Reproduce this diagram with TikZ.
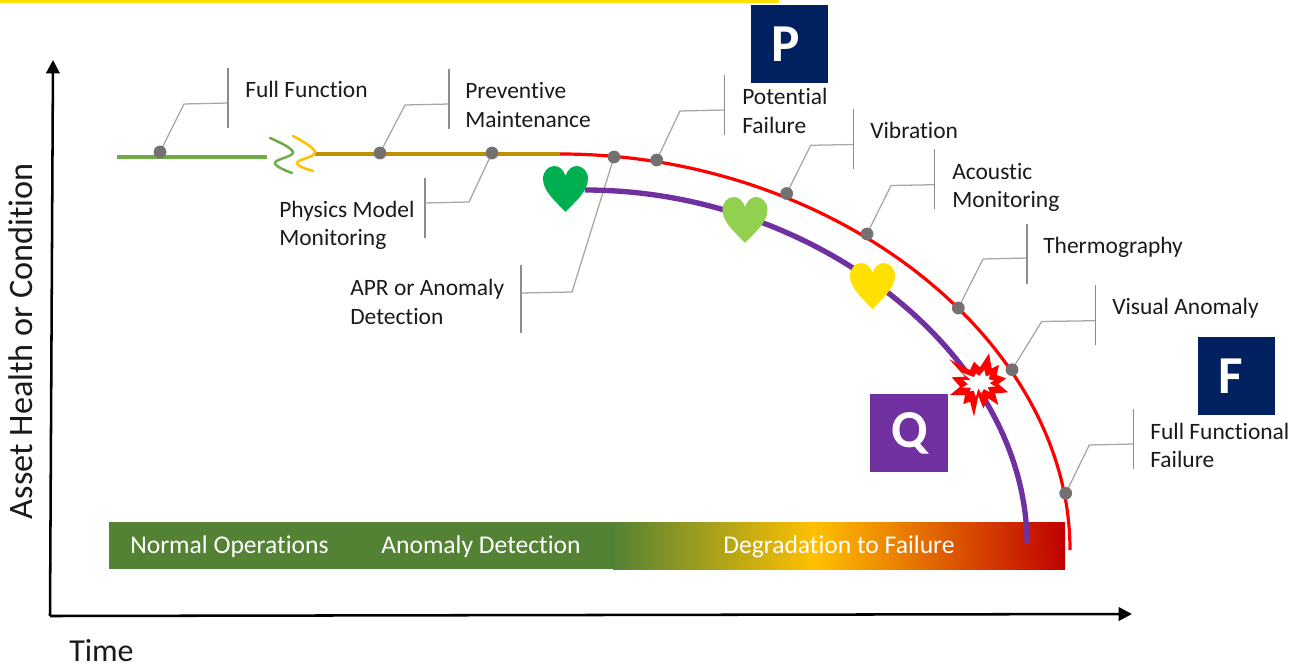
\documentclass[tikz,border=0pt]{standalone}
\usepackage{fontspec}
\setmainfont[Ligatures=NoCommon]{Carlito}
\usetikzlibrary{arrows.meta}
\definecolor{navyq}{HTML}{002060}
\definecolor{purpq}{HTML}{7030A0}
\definecolor{redq}{HTML}{FF0000}
\definecolor{dotgrey}{HTML}{767171}
\definecolor{leadgrey}{HTML}{A6A6A6}
\definecolor{bargrey}{HTML}{8C8C8C}
\definecolor{linegreen}{HTML}{70AD47}
\definecolor{ochre}{HTML}{BF9000}
\definecolor{wigyellow}{HTML}{FFC000}
\definecolor{topyellow}{HTML}{FFE000}
\definecolor{bargreen}{HTML}{548235}
\definecolor{bargold}{HTML}{FFC000}
\definecolor{bardark}{HTML}{C00000}
\definecolor{txt}{HTML}{1A1A1A}
\definecolor{heartdark}{HTML}{00B050}
\definecolor{heartlight}{HTML}{92D050}
\tikzset{
  dotnode/.style={circle,fill=dotgrey,draw=none,minimum size=9.6pt,inner sep=0pt},
  leader/.style={draw=leadgrey,line width=0.95pt},
  barline/.style={draw=bargrey,line width=0.85pt},
  lab/.style={anchor=west,inner sep=0pt,align=left,text=txt,font=\fontsize{17.6}{21.4}\selectfont},
  barlab/.style={anchor=west,inner sep=0pt,text=white,font=\fontsize{19.2}{23}\selectfont},
  letterbox/.style={anchor=center,inner sep=0pt,minimum width=58pt,minimum height=58.5pt,text=white,font=\fontsize{40}{44}\selectfont\bfseries},
  axisline/.style={draw=black,line width=1.9pt,-{Triangle[length=10pt,width=10pt]}},
}
\newcommand{\heartat}[3]{%
  \fill[#3,shift={(#1,#2)}] (0,23) .. controls (-8,14) and (-22.5,3) .. (-22.5,-10)
    .. controls (-22.5,-18) and (-17,-23) .. (-11,-23)
    .. controls (-6,-23) and (-2,-19) .. (0,-13)
    .. controls (2,-19) and (6,-23) .. (11,-23)
    .. controls (17,-23) and (22.5,-18) .. (22.5,-10)
    .. controls (22.5,3) and (8,14) .. (0,23) -- cycle;}
% name, dot, elbow, bar x, bar top y, bar mid y, bar bottom y
\newcommand{\callout}[7]{%
  \coordinate (#1d) at (#2);
  \coordinate (#1e) at (#3);
  \coordinate (#1t) at (#4,#5);
  \coordinate (#1m) at (#4,#6);
  \coordinate (#1b) at (#4,#7);
  \draw[leader] (#1d) -- (#1e) -- (#1m);
  \draw[barline] (#1t) -- (#1b);}
\newcommand{\burstpath}{(298,238) -- (360,270) -- (372,245) -- (390,262) -- (417,220) -- (425,265) -- (447,255) -- (440,285) -- (468,295) -- (445,312) -- (475,337) -- (435,340) -- (445,375) -- (415,355) -- (400,385) -- (385,348) -- (372,410) -- (360,365) -- (340,372) -- (345,345) -- (300,345) -- (330,320) -- (305,292) -- (345,290) -- cycle}
\begin{document}
\begin{tikzpicture}[x=0.75pt,y=-0.75pt]
\useasboundingbox (0,0) rectangle (1294,670);
\fill[topyellow] (0,0) rectangle (779,3);

% axes
\coordinate (corner) at (50,616);
\coordinate (ytop) at (53,60);
\coordinate (xend) at (1132,614);
\draw[axisline] (corner) -- (ytop);
\draw[axisline] (corner) -- (xend);
\node[inner sep=0pt,rotate=90,font=\fontsize{25.7}{30}\selectfont,text=txt] (ylabel) at (21,341) {Asset Health or Condition};
\node[inner sep=0pt,anchor=west,font=\fontsize{24}{28}\selectfont,text=txt] (xlabel) at (69,651) {Time};

% bottom bar
\fill[bargreen] (109,522) rectangle (613.5,569);
\shade[left color=bargreen,right color=bargold,shading angle=90] (613,522) rectangle (815,569);
\shade[left color=bargold,right color=bardark,shading angle=90] (814.5,522) rectangle (1065,569);
\node[barlab] (opn) at (130,546.5) {Normal Operations};
\node[barlab] (adt) at (381,546.5) {Anomaly Detection};
\node[barlab] (dgr) at (723,546.5) {Degradation to Failure};

% callouts
\callout{a}{160,152}{184,104}{228}{68}{103}{128}
\callout{b}{380,153}{405,105}{449}{69}{104}{129}
\callout{c}{492,153}{469,202}{425}{178}{203}{238}
\callout{e}{614,157}{572,292}{521}{265}{293}{333}
\callout{f}{656.7,160}{680,111}{724.5}{75}{110}{135}
\callout{g}{786.7,193.5}{810.7,145.3}{853.5}{109}{144.5}{169}
\callout{h}{867,234}{891,185.5}{934.7}{149.5}{184.7}{209.5}
\callout{i}{958.3,308}{983,259}{1027}{224}{258}{284}
\callout{j}{1012,369.7}{1041.7,321.5}{1095.7}{285}{320.7}{345}
\callout{k}{1065.7,493.3}{1089.3,445}{1133.7}{409}{444}{469}

% timeline
\draw[linegreen,line width=2.5pt] (117,157) -- (267,157);
\draw[ochre,line width=2.5pt] (315,154) -- (560,154);
\draw[linegreen,line width=1.9pt,line cap=round] plot[smooth,tension=0.7] coordinates {(270,138) (293,152) (275,163) (292,173)};
\draw[wigyellow,line width=1.9pt,line cap=round] plot[smooth,tension=0.7] coordinates {(293,136) (315,152) (297,163) (313,171)};

% curves
\draw[redq,line width=2.4pt] (560,154) .. controls (835,154) and (1070,340) .. (1070,550);
\draw[purpq,line width=4pt] (585,190) .. controls (819,190) and (1027,358) .. (1027,544);

% dots
\foreach \n in {a,b,c,e,f,g,h,i,j,k} \node[dotnode] (\n dot) at (\n d) {};

% hearts
\heartat{565.5}{189}{heartdark}
\heartat{745}{220}{heartlight}
\heartat{872.5}{286}{topyellow}

% burst
\begin{scope}[shift={(850,280)},x=0.25pt,y=-0.25pt]
  \fill[redq] \burstpath;
  \begin{scope}[shift={(385,307)},xscale=0.56,yscale=0.42,shift={(-385,-307)}]
    \fill[white] \burstpath;
  \end{scope}
\end{scope}

% letter boxes
\node[letterbox,fill=navyq] (P) at (789.5,44) {\hspace*{-5pt}\raisebox{-1pt}{P}};
\node[letterbox,fill=navyq] (F) at (1236.5,376) {\hspace*{-8pt}F};
\node[letterbox,fill=purpq] (Q) at (909,433) {\hspace*{1pt}\raisebox{-2pt}{Q}};

% labels
\node[lab] (l1) at (245,89) {Full Function};
\node[lab] (l2) at (465,105) {Preventive\\Maintenance};
\node[lab] (l3) at (279,225.5) {Physics Model\\Monitoring};
\node[lab] (l4) at (350,302) {APR or Anomaly\\Detection};
\node[lab] (l5) at (742,111) {Potential\\Failure};
\node[lab] (l6) at (870,130.5) {Vibration};
\node[lab] (l7) at (952,187.5) {Acoustic\\Monitoring};
\node[lab] (l8) at (1043,247) {Thermography};
\node[lab] (l9) at (1112,308.5) {Visual Anomaly};
\node[lab] (l10) at (1150,445.5) {Full Functional\\Failure};
\end{tikzpicture}
\end{document}
